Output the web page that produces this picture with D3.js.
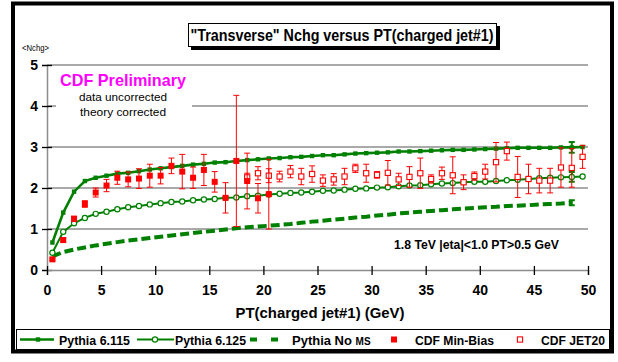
<!DOCTYPE html>
<html>
<head>
<meta charset="utf-8">
<script src="https://cdn.jsdelivr.net/npm/d3@7/dist/d3.min.js"></script>
<style>
  html, body { margin: 0; padding: 0; background: #fff; }
  svg { display: block; }
  text { font-family: "Liberation Sans Narrow", "Arial Narrow", "Liberation Sans", Arial, sans-serif; }
</style>
</head>
<body>
<svg id="chart" width="618" height="362"></svg>
<script>
// Transverse-region charged multiplicity versus leading charged-jet PT
const ptTheory = [0.5,1.5,2.5,3.5,4.5,5.5,6.5,7.5,8.5,9.5,10.5,11.5,12.5,13.5,14.5,15.5,16.5,17.5,18.5,19.5,
  20.5,21.5,22.5,23.5,24.5,25.5,26.5,27.5,28.5,29.5,30.5,31.5,32.5,33.5,34.5,35.5,36.5,37.5,38.5,39.5,
  40.5,41.5,42.5,43.5,44.5,45.5,46.5,47.5,48.5,49.5];
const pythia115 = [0.67,1.40,1.91,2.17,2.25,2.30,2.35,2.37,2.41,2.45,2.48,2.51,2.54,2.57,2.59,2.62,2.63,2.66,2.68,2.70,
  2.72,2.73,2.75,2.76,2.78,2.80,2.80,2.82,2.84,2.85,2.86,2.87,2.89,2.89,2.90,2.91,2.92,2.93,2.93,2.94,
  2.95,2.96,2.97,2.98,2.98,2.98,2.98,2.99,2.99,3.00];
const pythia125 = [0.42,0.93,1.14,1.27,1.37,1.42,1.48,1.53,1.56,1.60,1.63,1.66,1.67,1.70,1.72,1.73,1.76,1.77,1.80,1.81,
  1.84,1.86,1.88,1.89,1.91,1.93,1.94,1.96,1.98,1.99,2.01,2.02,2.04,2.06,2.07,2.09,2.11,2.12,2.14,2.15,
  2.15,2.17,2.19,2.20,2.22,2.24,2.25,2.26,2.27,2.28];
const ptNoMS = [0.5,1.5,2.5,3.5,4.5,5.5,6.5,7.5,8.5,9.5,10.5,11.5,12.5,13.5,14.5,15.5,16.5,17.5,18.5,19.5,
  20.5,21.5,22.5,23.5,24.5,25.5,26.5,27.5,28.5,29.5,30.5,31.5,32.5,33.5,34.5,35.5,36.5,37.5,38.5,39.5,
  40.5,41.5,42.5,43.5,44.5,45.5,46.5,47.5,48.5];
const pythiaNoMS = [0.33,0.44,0.50,0.55,0.60,0.64,0.68,0.72,0.75,0.78,0.81,0.84,0.87,0.90,0.93,0.96,0.99,1.02,1.04,1.06,
  1.08,1.10,1.12,1.15,1.18,1.20,1.23,1.25,1.28,1.30,1.33,1.35,1.38,1.40,1.42,1.44,1.46,1.48,1.50,1.51,
  1.53,1.54,1.56,1.57,1.58,1.60,1.61,1.62,1.64];
// statistical errors shown on the last theory point
const theoryErrPt = 48.5;
const pythia115Err = 0.13, pythia125Err = 0.12, pythiaNoMSErr = 0.06;

const ptMinBias = [0.5,1.5,2.5,3.5,4.5,5.5,6.5,7.5,8.5,9.5,10.5,11.5,12.5,13.5,14.5,15.5,16.5,17.5,18.5,19.5,20.5];
const minBias    = [0.26,0.73,1.25,1.61,1.89,2.06,2.25,2.21,2.23,2.30,2.30,2.54,2.40,2.25,2.44,2.15,1.76,2.66,2.17,1.75,1.85];
const minBiasErr = [0.03,0.05,0.06,0.08,0.11,0.15,0.16,0.18,0.24,0.28,0.20,0.19,0.42,0.26,0.38,0.25,0.37,1.60,0.68,0.36,0.85];

const ptJet20 = [18.5,19.5,20.5,21.5,22.5,23.5,24.5,25.5,26.5,27.5,28.5,29.5,30.5,31.5,32.5,33.5,
  34.5,35.5,36.5,37.5,38.5,39.5,40.5,41.5,42.5,43.5,44.5,45.5,46.5,47.5,48.5,49.5];
const jet20    = [2.26,2.36,2.30,2.28,2.40,2.28,2.34,2.18,2.21,2.28,2.48,2.36,2.32,2.37,2.21,2.27,
  2.36,2.22,2.36,2.31,2.14,2.29,2.40,2.63,2.90,2.27,2.22,2.18,2.18,2.50,2.49,2.76];
const jet20Err = [0.10,0.16,0.17,0.13,0.15,0.20,0.20,0.14,0.14,0.20,0.10,0.22,0.08,0.30,0.15,0.25,
  0.37,0.10,0.15,0.45,0.18,0.10,0.18,0.48,0.22,0.50,0.36,0.30,0.30,0.48,0.47,0.28];

const xTicks = [0,5,10,15,20,25,30,35,40,45,50];
const yTicks = [0,1,2,3,4,5];

const GREEN = "#008000", RED = "#ff0000", GRID = "#8c8c8c";

const svg = d3.select("#chart");
const x = d3.scaleLinear().domain([0, 50]).range([47, 588]);
const y = d3.scaleLinear().domain([0, 5]).range([270, 65]);

// outer frame
svg.append("rect").attr("x", 13).attr("y", 3.5).attr("width", 599).attr("height", 348)
  .attr("fill", "#fff").attr("stroke", "#000").attr("stroke-width", 4);

// title box with drop shadow
svg.append("rect").attr("x", 191).attr("y", 26).attr("width", 309).attr("height", 24).attr("fill", "#000");
svg.append("rect").attr("x", 188.5).attr("y", 23.5).attr("width", 308).attr("height", 23)
  .attr("fill", "#fff").attr("stroke", "#000").attr("stroke-width", 1);
svg.append("text").attr("x", 342).attr("y", 41).attr("text-anchor", "middle")
  .attr("font-size", 17).attr("font-weight", "bold")
  .attr("textLength", 303).attr("lengthAdjust", "spacingAndGlyphs")
  .text("\"Transverse\" Nchg versus PT(charged jet#1)");

// y-axis caption
svg.append("text").attr("x", 22).attr("y", 51).attr("font-size", 9)
  .attr("textLength", 27).attr("lengthAdjust", "spacingAndGlyphs").text("<Nchg>");

// horizontal grid
svg.append("g").selectAll("line").data(yTicks.filter(d => d > 0)).join("line")
  .attr("x1", x(0)).attr("x2", x(50)).attr("y1", d => y(d)).attr("y2", d => y(d))
  .attr("stroke", GRID).attr("stroke-width", 1.5);

// axes
const yAxis = svg.append("g").attr("transform", `translate(${x(0)},0)`)
  .call(d3.axisLeft(y).tickValues(yTicks).tickSize(5).tickPadding(6).tickFormat(d3.format("d")));
yAxis.select(".domain").attr("stroke", GRID).attr("stroke-width", 1.5);
yAxis.selectAll(".tick line").attr("x1", -5).attr("x2", 5).attr("stroke", "#000").attr("stroke-width", 1.3);
yAxis.selectAll(".tick text").attr("font-size", 14).attr("font-weight", "bold").attr("fill", "#000")
  .attr("x", -9);

const xAxis = svg.append("g").attr("transform", `translate(0,${y(0)})`)
  .call(d3.axisBottom(x).tickValues(xTicks).tickSize(5).tickPadding(10).tickFormat(d3.format("d")));
xAxis.select(".domain").attr("stroke", GRID).attr("stroke-width", 1.5);
xAxis.selectAll(".tick line").attr("y1", -4).attr("y2", 5).attr("stroke", "#000").attr("stroke-width", 1.3);
xAxis.selectAll(".tick text").attr("font-size", 14).attr("font-weight", "bold").attr("fill", "#000");

svg.append("text").attr("x", 320).attr("y", 318).attr("text-anchor", "middle")
  .attr("font-size", 14).attr("font-weight", "bold")
  .attr("textLength", 169).attr("lengthAdjust", "spacingAndGlyphs")
  .text("PT(charged jet#1)  (GeV)");

// annotation block (white backing hides the grid beneath it)
svg.append("rect").attr("x", 56).attr("y", 70).attr("width", 136).attr("height", 52).attr("fill", "#fff");
svg.append("text").attr("x", 123).attr("y", 86).attr("text-anchor", "middle")
  .attr("font-size", 17).attr("font-weight", "bold").attr("fill", "#ff00ff")
  .attr("textLength", 126).attr("lengthAdjust", "spacingAndGlyphs").text("CDF Preliminary");
svg.append("text").attr("x", 123).attr("y", 101).attr("text-anchor", "middle")
  .attr("font-size", 11).attr("textLength", 88).attr("lengthAdjust", "spacingAndGlyphs")
  .text("data uncorrected");
svg.append("text").attr("x", 123).attr("y", 116).attr("text-anchor", "middle")
  .attr("font-size", 11).attr("textLength", 86).attr("lengthAdjust", "spacingAndGlyphs")
  .text("theory corrected");

svg.append("text").attr("x", 394).attr("y", 249).attr("font-size", 13).attr("font-weight", "bold")
  .attr("textLength", 165).attr("lengthAdjust", "spacingAndGlyphs")
  .text("1.8 TeV |eta|<1.0 PT>0.5 GeV");

// error bar helper
function errorBars(g, xs, vs, es, color, cap, width) {
  const rows = xs.map((px, i) => ({ px, v: vs[i], e: es[i] }));
  const eg = g.append("g").attr("stroke", color).attr("stroke-width", width).attr("fill", "none");
  eg.selectAll("path").data(rows).join("path")
    .attr("d", d => {
      const cx = x(d.px), t = y(d.v + d.e), b = y(d.v - d.e);
      return `M${cx},${t}V${b}M${cx - cap},${t}H${cx + cap}M${cx - cap},${b}H${cx + cap}`;
    });
}

const plot = svg.append("g");
const line = d3.line().x(d => x(d[0])).y(d => y(d[1]));

// Pythia No MS (dashed)
plot.append("path").datum(ptNoMS.map((p, i) => [p, pythiaNoMS[i]]))
  .attr("d", line).attr("fill", "none").attr("stroke", GREEN).attr("stroke-width", 4)
  .attr("stroke-dasharray", "9,4");
errorBars(plot, [theoryErrPt], [pythiaNoMS[ptNoMS.indexOf(theoryErrPt)]], [pythiaNoMSErr], GREEN, 3, 2);

// Pythia 6.125 (open circles)
plot.append("path").datum(ptTheory.map((p, i) => [p, pythia125[i]]))
  .attr("d", line).attr("fill", "none").attr("stroke", GREEN).attr("stroke-width", 2);
errorBars(plot, [theoryErrPt], [pythia125[ptTheory.indexOf(theoryErrPt)]], [pythia125Err], GREEN, 3, 2);
plot.append("g").selectAll("circle").data(ptTheory).join("circle")
  .attr("cx", d => x(d)).attr("cy", (d, i) => y(pythia125[i])).attr("r", 2.6)
  .attr("fill", "#fff").attr("stroke", GREEN).attr("stroke-width", 1.2);

// Pythia 6.115 (filled squares)
plot.append("path").datum(ptTheory.map((p, i) => [p, pythia115[i]]))
  .attr("d", line).attr("fill", "none").attr("stroke", GREEN).attr("stroke-width", 2.6);
errorBars(plot, [theoryErrPt], [pythia115[ptTheory.indexOf(theoryErrPt)]], [pythia115Err], GREEN, 3, 2);
plot.append("g").selectAll("rect").data(ptTheory).join("rect")
  .attr("x", d => x(d) - 2.2).attr("y", (d, i) => y(pythia115[i]) - 2.2)
  .attr("width", 4.4).attr("height", 4.4).attr("fill", GREEN);

// CDF JET20 (open squares)
errorBars(plot, ptJet20, jet20, jet20Err, RED, 3, 1);
plot.append("g").selectAll("rect").data(ptJet20).join("rect")
  .attr("x", d => x(d) - 2.6).attr("y", (d, i) => y(jet20[i]) - 2.6)
  .attr("width", 5.2).attr("height", 5.2).attr("fill", "#fff").attr("stroke", RED).attr("stroke-width", 1.1);

// CDF Min-Bias (filled squares)
errorBars(plot, ptMinBias, minBias, minBiasErr, RED, 3, 1);
plot.append("g").selectAll("rect").data(ptMinBias).join("rect")
  .attr("x", d => x(d) - 3).attr("y", (d, i) => y(minBias[i]) - 3)
  .attr("width", 6).attr("height", 6).attr("fill", RED);

// legend
const lg = svg.append("g");
lg.append("rect").attr("x", 16.5).attr("y", 329.5).attr("width", 593).attr("height", 20)
  .attr("fill", "#fff").attr("stroke", "#000").attr("stroke-width", 1);
const ly = 339.5;
lg.append("line").attr("x1", 20).attr("x2", 54).attr("y1", ly).attr("y2", ly).attr("stroke", GREEN).attr("stroke-width", 2.6);
lg.append("rect").attr("x", 35.8).attr("y", ly - 2.2).attr("width", 4.4).attr("height", 4.4).attr("fill", GREEN);
lg.append("line").attr("x1", 137).attr("x2", 174).attr("y1", ly).attr("y2", ly).attr("stroke", GREEN).attr("stroke-width", 2);
lg.append("circle").attr("cx", 155).attr("cy", ly).attr("r", 2.6).attr("fill", "#fff").attr("stroke", GREEN).attr("stroke-width", 1.2);
lg.append("line").attr("x1", 250).attr("x2", 278).attr("y1", ly).attr("y2", ly).attr("stroke", GREEN).attr("stroke-width", 4)
  .attr("stroke-dasharray", "7,14");
lg.append("rect").attr("x", 391).attr("y", ly - 3).attr("width", 6).attr("height", 6).attr("fill", RED);
lg.append("rect").attr("x", 517.4).attr("y", ly - 2.6).attr("width", 5.2).attr("height", 5.2)
  .attr("fill", "#fff").attr("stroke", RED).attr("stroke-width", 1.1);

const legendLabels = [
  { x: 59, w: 71, t: "Pythia 6.115" },
  { x: 175, w: 71, t: "Pythia 6.125" },
  { x: 415, w: 79, t: "CDF Min-Bias" },
  { x: 541, w: 64, t: "CDF JET20" }
];
lg.selectAll("text.lab").data(legendLabels).join("text").attr("class", "lab")
  .attr("x", d => d.x).attr("y", ly + 5).attr("font-size", 13).attr("font-weight", "bold")
  .attr("textLength", d => d.w).attr("lengthAdjust", "spacingAndGlyphs").text(d => d.t);
const noms = lg.append("text").attr("x", 292).attr("y", ly + 5).attr("font-size", 13).attr("font-weight", "bold");
noms.append("tspan").text("Pythia No ");
noms.append("tspan").attr("font-size", 10).text("MS");
</script>
</body>
</html>
